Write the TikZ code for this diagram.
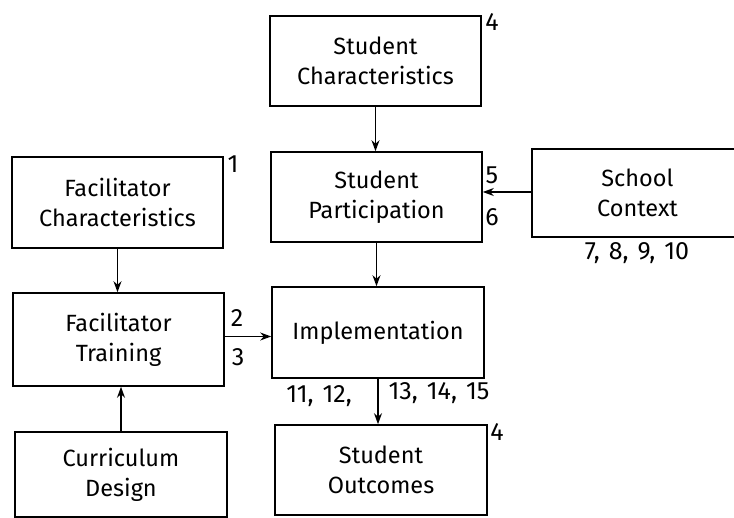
\documentclass[tikz,border=0pt]{standalone}
\usepackage{fontspec}
\setmainfont{Fira Sans}
\usetikzlibrary{arrows.meta}
\begin{document}
\begin{tikzpicture}[x=1pt,y=-1pt,
  box/.style={draw, line width=1.6pt, inner sep=0pt, align=center,
    font=\fontsize{23.5}{30}\selectfont},
  lbl/.style={inner sep=0pt, font=\fontsize{25}{26}\selectfont},
  arr/.style={line width=1.5pt, -{Stealth[length=11pt,width=8pt]}}]
\useasboundingbox (0,0) rectangle (734,518);
\clip (0,0) rectangle (734,518);
\node[box, minimum width=211pt, minimum height=90pt] (sc) at (375.5,61) {Student\\Characteristics};
\node[box, minimum width=211pt, minimum height=90pt] (sp) at (376.5,197) {Student\\Participation};
\node[box, minimum width=211pt, minimum height=88pt] (cx) at (637.5,193) {School\\Context};
\node[box, minimum width=211pt, minimum height=91pt] (fc) at (117.5,202.5) {Facilitator\\Characteristics};
\node[box, minimum width=211pt, minimum height=93pt] (ft) at (118.5,339.5) {Facilitator\\Training};
\node[box, minimum width=212pt, minimum height=91pt] (im) at (378,332.5) {Implementation};
\node[box, minimum width=212pt, minimum height=85pt] (cd) at (121,474.5) {Curriculum\\Design};
\node[box, minimum width=212pt, minimum height=90pt] (so) at (381,470) {Student\\Outcomes};
\draw[arr] (sc.south) -- (sc.south |- sp.north);
\draw[arr] (fc.south) -- (fc.south |- ft.north);
\draw[arr] (sp.south) -- (sp.south |- im.north);
\draw[arr] ([yshift=1pt]cx.west) -- ([yshift=1pt]cx.west -| sp.east);
\draw[arr] ([yshift=3pt]ft.east) -- ([yshift=3pt]ft.east -| im.west);
\draw[arr] (im.south) -- (im.south |- so.north);
\draw[arr] (cd.north) -- (cd.north |- ft.south);
\node[lbl] (n4a) at (492,22) {4};
\node[lbl] (n1) at (233,164) {1};
\node[lbl] (n5) at (492,175) {5};
\node[lbl] (n6) at (492,217) {6};
\node[lbl] (n7) at (637,253) {7,\hspace{9pt}8,\hspace{9pt}9,\hspace{9pt}10};
\node[lbl] (n2) at (237,318) {2};
\node[lbl] (n3) at (238,357) {3};
\node[lbl] (n11) at (319,396) {11,\hspace{9pt}12,};
\node[lbl] (n13) at (439,393) {13,\hspace{9pt}14,\hspace{9pt}15};
\node[lbl] (n4b) at (497,432) {4};
\end{tikzpicture}
\end{document}
